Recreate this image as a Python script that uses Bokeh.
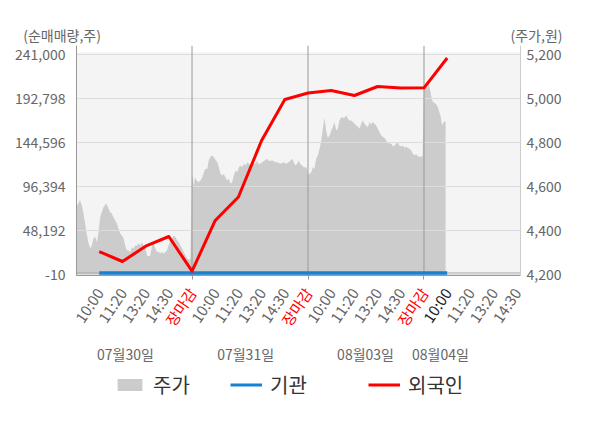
import math
from bokeh.plotting import figure
from bokeh.layouts import column
from bokeh.models import (Range1d, LinearAxis, FixedTicker, NumeralTickFormatter, Span,
                          BoxAnnotation, ColumnDataSource, Legend, LegendItem)
from bokeh.core.properties import value
from bokeh.embed import file_html
from bokeh.resources import INLINE

FONT = "Noto Sans CJK KR"

# ---------------- data ----------------
tick_pos = list(range(1, 20))
tick_labels = ["10:00", "11:20", "13:20", "14:30", "장마감",
               "10:00", "11:20", "13:20", "14:30", "장마감",
               "10:00", "11:20", "13:20", "14:30", "장마감",
               "10:00", "11:20", "13:20", "14:30"]
tick_colors = ["#666666"] * 4 + ["#ff0000"] + ["#666666"] * 4 + ["#ff0000"] + \
              ["#666666"] * 4 + ["#ff0000"] + ["#222222"] + ["#666666"] * 3
day_breaks = [5, 10, 15]
date_labels = ["07월30일", "07월31일", "08월03일", "08월04일"]
date_label_pos = [2.13, 7.31, 12.48, 15.71]

left_ticks = [-10, 48192, 96394, 144596, 192798, 241000]
right_ticks = [4200, 4400, 4600, 4800, 5000, 5200]
left_title = "(순매매량,주)"
right_title = "(주가,원)"

flow_pos = list(range(1, 17))
foreign_net = [25500, 14560, 31320, 41950, 3930, 59480, 85220, 147120,
               192030, 199150, 201890, 196410, 206270, 204630, 204850, 237490]
institution_net = [2000, 2000, 2000, 2000, 2000, 2000, 2000, 2000,
                   2000, 2000, 2000, 2000, 2000, 2000, 2000, 2000]

price_pos = [0.00, 0.10, 0.17, 0.25, 0.32, 0.39, 0.46, 0.53, 0.61, 0.68, 0.75, 0.82, 0.90, 0.96,
             1.04, 1.11, 1.18, 1.30, 1.40, 1.47, 1.54, 1.61, 1.69, 1.76, 1.83, 1.90, 1.98, 2.05,
             2.12, 2.19, 2.26, 2.34, 2.41, 2.48, 2.55, 2.63, 2.70, 2.77, 2.84, 2.91, 2.99, 3.06,
             3.13, 3.20, 3.28, 3.34, 3.42, 3.49, 3.56, 3.63, 3.71, 3.78, 3.85, 3.92, 3.99, 4.07,
             4.14, 4.21, 4.28, 4.36, 4.43, 4.50, 4.57, 4.64, 4.72, 4.79, 4.86, 4.93,
             5.00, 5.03, 5.08, 5.12, 5.18, 5.27, 5.37, 5.44, 5.51, 5.58, 5.66, 5.72, 5.80, 5.87,
             5.94, 6.01, 6.09, 6.16, 6.23, 6.30, 6.37, 6.44, 6.52, 6.59, 6.66, 6.73, 6.80, 6.88,
             6.95, 7.02, 7.09, 7.16, 7.23, 7.31, 7.38, 7.45, 7.52, 7.59, 7.74, 7.81, 7.88, 8.03,
             8.17, 8.24, 8.31, 8.46, 8.60, 8.67, 8.81, 8.96, 9.03, 9.17, 9.25, 9.32, 9.39, 9.46,
             9.53, 9.60, 9.68, 9.75, 9.82, 9.89, 9.94,
             10.00, 10.06, 10.14, 10.21, 10.28, 10.35, 10.42, 10.50, 10.57, 10.64, 10.71, 10.78,
             10.85, 10.93, 11.00, 11.07, 11.14, 11.22, 11.28, 11.36, 11.43, 11.50, 11.57, 11.65,
             11.72, 11.79, 11.86, 11.93, 12.00, 12.08, 12.15, 12.22, 12.29, 12.36, 12.44, 12.51,
             12.58, 12.65, 12.72, 12.79, 12.87, 12.94, 13.01, 13.08, 13.16, 13.22, 13.30, 13.37,
             13.44, 13.51, 13.59, 13.66, 13.73, 13.80, 13.87, 13.94, 14.02, 14.09, 14.16, 14.23,
             14.30, 14.38, 14.45, 14.52, 14.59, 14.66, 14.73, 14.81, 14.88, 14.94,
             15.00, 15.06, 15.14, 15.21, 15.28, 15.35, 15.42, 15.50, 15.57, 15.64, 15.71, 15.78,
             15.85, 15.93]
price = [4507, 4524, 4540, 4515, 4478, 4433, 4387, 4348, 4319, 4333, 4365, 4374, 4348, 4387,
         4461, 4484, 4507, 4525, 4501, 4484, 4478, 4461, 4446, 4433, 4410, 4387, 4378, 4365,
         4333, 4310, 4310, 4303, 4325, 4319, 4333, 4333, 4343, 4333, 4348, 4333, 4319, 4288,
         4283, 4288, 4333, 4343, 4319, 4303, 4303, 4298, 4303, 4295, 4303, 4310, 4333, 4356,
         4365, 4378, 4371, 4356, 4348, 4333, 4319, 4303, 4288, 4275, 4268, 4270,
         4651, 4643, 4598, 4643, 4631, 4620, 4628, 4643, 4666, 4681, 4681, 4719, 4737, 4742,
         4734, 4722, 4711, 4688, 4658, 4651, 4658, 4643, 4628, 4636, 4613, 4620, 4651, 4673,
         4666, 4688, 4696, 4688, 4704, 4696, 4711, 4704, 4696, 4711, 4704, 4716, 4701, 4711,
         4722, 4727, 4716, 4719, 4711, 4711, 4704, 4711, 4704, 4711, 4719, 4727, 4711, 4696,
         4704, 4719, 4701, 4696, 4688, 4688, 4686,
         4651, 4658, 4666, 4688, 4681, 4727, 4742, 4772, 4810, 4863, 4913, 4855,
         4822, 4832, 4855, 4870, 4893, 4855, 4863, 4900, 4915, 4913, 4913, 4923,
         4908, 4900, 4900, 4893, 4888, 4878, 4873, 4863, 4885, 4900, 4885, 4878,
         4870, 4893, 4882, 4893, 4885, 4878, 4863, 4847, 4832, 4825, 4822, 4810,
         4797, 4797, 4795, 4782, 4787, 4795, 4802, 4787, 4782, 4787, 4776, 4782,
         4776, 4772, 4764, 4749, 4742, 4749, 4737, 4737, 4737, 4737,
         5059, 5067, 5044, 5067, 5029, 4991, 4983, 4976, 4968, 4946, 4923, 4878,
         4893, 4897]

# ---------------- layout constants ----------------
W = 600
TOP_H = 45
FRAME_L, FRAME_R = 76, 80
FRAME_H = 230
MAIN_BOTTOM = 10
BOT_H = 428 - TOP_H - FRAME_H - MAIN_BOTTOM
x_lo, x_hi = 0.02, 19.16
left_lo, left_hi = -777, 251188
price_lo, price_hi = 4196.8, 5240.8
GRAY = "#666666"
NAN = float("nan")


def blank(height, x_range, y_range):
    f = figure(width=W, height=height, output_backend="svg", toolbar_location=None,
               x_range=x_range, y_range=y_range, x_axis_location=None, y_axis_location=None,
               min_border=0, outline_line_color=None, background_fill_color="white",
               border_fill_color="white", frame_align=False)
    f.grid.visible = False
    return f


# ---------------- top strip: axis titles ----------------
top = blank(TOP_H, Range1d(0, W), Range1d(TOP_H, 0))
top.text(x=[22.7], y=[34], text=[left_title], text_align="left", text_baseline="middle",
         text_color=GRAY, text_font=value(FONT), text_font_size="14px")
top.text(x=[562], y=[34], text=[right_title], text_align="right", text_baseline="middle",
         text_color=GRAY, text_font=value(FONT), text_font_size="14px")

# ---------------- main chart ----------------
p = figure(width=W, height=FRAME_H + MAIN_BOTTOM, output_backend="svg", toolbar_location=None,
           x_range=Range1d(x_lo, x_hi), y_range=Range1d(left_lo, left_hi),
           min_border_left=FRAME_L, min_border_right=FRAME_R, min_border_top=0,
           min_border_bottom=MAIN_BOTTOM, frame_align=False,
           background_fill_color="white", border_fill_color="white", outline_line_color=None)
p.extra_y_ranges = {"price": Range1d(price_lo, price_hi)}

xa = p.below[0]
xa.ticker = FixedTicker(ticks=day_breaks)
xa.major_label_text_color = None
xa.major_label_text_font_size = "0px"
xa.major_label_standoff = 0
xa.major_tick_out = 4
xa.major_tick_in = 0
xa.minor_tick_out = 0
xa.minor_tick_in = 0
xa.axis_line_color = "#999999"
xa.major_tick_line_color = "#999999"

ya = p.left[0]
ya.ticker = FixedTicker(ticks=left_ticks)
ya.formatter = NumeralTickFormatter(format="0,0")
ya.major_tick_out = 0
ya.major_tick_in = 0
ya.minor_tick_out = 0
ya.minor_tick_in = 0
ya.axis_line_color = "#999999"
ya.major_label_standoff = 11
ya.major_label_text_font = FONT
ya.major_label_text_font_size = "14px"
ya.major_label_text_color = GRAY

ra = LinearAxis(y_range_name="price", ticker=FixedTicker(ticks=right_ticks),
                formatter=NumeralTickFormatter(format="0,0"))
ra.major_tick_out = 0
ra.major_tick_in = 0
ra.minor_tick_out = 0
ra.minor_tick_in = 0
ra.axis_line_color = "#cccccc"
ra.major_label_standoff = 6
ra.major_label_text_font = FONT
ra.major_label_text_font_size = "14px"
ra.major_label_text_color = GRAY
p.add_layout(ra, "right")

p.xgrid.visible = False
p.ygrid.grid_line_color = "#dddddd"
p.ygrid.level = "underlay"

bg = BoxAnnotation(top=243848, fill_color="#f4f4f4", fill_alpha=1, line_color=None, level="image")
p.add_layout(bg)

area = p.varea(x=price_pos, y1=price_lo, y2=price, y_range_name="price",
               fill_color="#cccccc", level="underlay")

p.add_layout(Span(location=2000, dimension="width", line_color="#aaaaaa", line_width=1, level="underlay"))
for b in day_breaks:
    p.add_layout(Span(location=b, dimension="height", line_color="#999999", line_width=1, level="underlay"))

inst = p.line(flow_pos, institution_net, line_color="#1a80d0", line_width=3.5)
forn = p.line(flow_pos, foreign_net, line_color="#ff0000", line_width=3, line_join="round")

# ---------------- bottom strip: tick labels, dates, legend ----------------
s = (x_hi - x_lo) / (W - FRAME_L - FRAME_R)
bot = blank(BOT_H, Range1d(x_lo - FRAME_L * s, x_hi + FRAME_R * s), Range1d(BOT_H, 0))
tsrc = ColumnDataSource(dict(x=tick_pos, y=[4] * len(tick_pos), text=tick_labels, color=tick_colors))
bot.text(x="x", y="y", text="text", source=tsrc, angle=math.radians(56), text_align="right",
         text_baseline="middle", text_color="color", text_font=value(FONT), text_font_size="15px")
dsrc = ColumnDataSource(dict(x=date_label_pos, y=[68] * len(date_label_pos), text=date_labels))
bot.text(x="x", y="y", text="text", source=dsrc, text_align="center", text_baseline="middle",
         text_color=GRAY, text_font=value(FONT), text_font_size="14px")

# legend-only renderers (no visible data)
l_area = bot.varea(x=[NAN], y1=[NAN], y2=[NAN], fill_color="#cccccc")
l_inst = bot.line(x=[NAN], y=[NAN], line_color="#1a80d0", line_width=3)
l_forn = bot.line(x=[NAN], y=[NAN], line_color="#ff0000", line_width=3)

for lab, r, lx, gw in [("주가", l_area, 114, 31), ("기관", l_inst, 230, 32), ("외국인", l_forn, 368, 32)]:
    lg = Legend(items=[LegendItem(label=lab, renderers=[r])], location=(lx, 29),
                orientation="horizontal", padding=0, margin=0, spacing=0,
                border_line_color=None, background_fill_alpha=0,
                glyph_width=gw, glyph_height=15, label_standoff=8,
                label_text_font=FONT, label_text_font_size="20px", label_text_color="#333333")
    bot.add_layout(lg)

layout = column(top, p, bot, spacing=0)
open("out.html", "w").write(file_html(layout, INLINE))
